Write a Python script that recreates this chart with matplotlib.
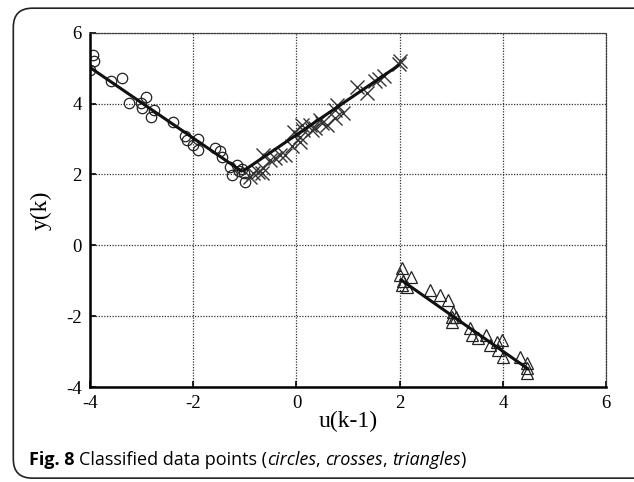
import matplotlib
matplotlib.use("Agg")
import matplotlib.pyplot as plt
from matplotlib.patches import FancyBboxPatch

plt.rcParams["axes.unicode_minus"] = False

# data
circles_u = [-3.94, -3.92, -4.01, -3.59, -3.39, -3.24, -3.02, -2.92, -3.0, -2.77,
             -2.82, -2.39, -2.16, -2.13, -1.90, -2.0, -1.91, -1.58, -1.48, -1.44,
             -1.29, -1.16, -1.24, -1.06, -1.0, -1.12, -1.02]
circles_y = [5.36, 5.20, 4.95, 4.64, 4.72, 4.02, 4.03, 4.20, 3.88, 3.82,
             3.62, 3.47, 3.10, 2.98, 3.00, 2.84, 2.69, 2.76, 2.66, 2.49,
             2.20, 2.27, 1.99, 2.15, 1.80, 2.10, 2.05]

crosses_u = [2.01, 1.98, 1.69, 1.52, 1.60, 1.17, 1.36, 0.78, 0.75, 0.91,
             0.75, 0.59, 0.46, 0.36, 0.26, 0.10, 0.13, 0.06, 0.07, -0.09,
             -0.22, -0.32, -0.41, -0.51, -0.64, -0.64, -0.74, -0.84, -0.67, -0.90,
             0.30, 0.50, -0.05]
crosses_y = [5.19, 5.12, 4.77, 4.65, 4.70, 4.48, 4.29, 3.97, 3.82, 3.73,
             3.59, 3.40, 3.54, 3.31, 3.40, 3.40, 3.26, 3.07, 2.93, 2.79,
             2.55, 2.55, 2.46, 2.41, 2.55, 2.18, 2.08, 2.04, 2.04, 1.94,
             3.25, 3.45, 3.20]

tri_u = [2.04, 2.01, 2.21, 2.07, 2.04, 2.14, 2.59, 2.79, 2.94, 3.04,
         3.01, 3.01, 3.10, 3.36, 3.40, 3.52, 3.68, 3.75, 3.88, 3.98,
         3.91, 4.01, 4.33, 4.46, 4.46, 4.46]
tri_y = [-0.65, -0.84, -0.88, -1.02, -1.12, -1.17, -1.26, -1.40, -1.54, -1.87,
         -2.01, -2.16, -2.01, -2.34, -2.53, -2.62, -2.53, -2.81, -2.72, -2.67,
         -2.95, -3.14, -3.14, -3.33, -3.47, -3.61]

# fitted piecewise lines
fit1_u = [-4.0, -1.05]
fit1_y = [5.02, 2.08]
fit2_u = [-1.05, 2.0]
fit2_y = [2.08, 5.1]
fit3_u = [2.0, 4.5]
fit3_y = [-0.95, -3.5]

ticks = [-4, -2, 0, 2, 4, 6]

serif = "Liberation Serif"
sans = "Open Sans"

fig = plt.figure(figsize=(6.34, 4.82), dpi=100)
ax = fig.add_axes([0.142, 0.197, 0.814, 0.735])

mk = dict(linestyle="none", markerfacecolor="none")
ax.plot(circles_u, circles_y, marker="o", markersize=7.5, markeredgecolor="#222222",
        markeredgewidth=0.9, **mk)
ax.plot(crosses_u, crosses_y, marker="x", markersize=10, markeredgecolor="#333333",
        markeredgewidth=1.0, **mk)
ax.plot(tri_u, tri_y, marker="^", markersize=8.5, markeredgecolor="#222222",
        markeredgewidth=0.9, **mk)

for u, y in [(fit1_u, fit1_y), (fit2_u, fit2_y), (fit3_u, fit3_y)]:
    ax.plot(u, y, color="#111111", linewidth=2.2, solid_capstyle="butt")

ax.set_xlim(-4, 6)
ax.set_ylim(-4, 6)
ax.set_xticks(ticks)
ax.set_yticks(ticks)
ax.grid(True, linestyle=(0, (1, 1.2)), color="#333333", linewidth=0.9)
ax.tick_params(direction="in", length=4, width=1.2, labelsize=13.5, pad=6)
for lab in ax.get_xticklabels() + ax.get_yticklabels():
    lab.set_fontfamily(serif)

for s in ["left", "bottom"]:
    ax.spines[s].set_linewidth(1.8)
for s in ["top", "right"]:
    ax.spines[s].set_linestyle((0, (1, 1.2)))
    ax.spines[s].set_linewidth(0.9)
    ax.spines[s].set_color("#333333")

ax.set_xlabel("u(k-1)", fontfamily=serif, fontsize=17, labelpad=-1)
ax.set_ylabel("y(k)", fontfamily=serif, fontsize=17, labelpad=10)

# rounded caption frame, right side runs off the page
frame = FancyBboxPatch((0.021, 0.008), 1.2, 0.975, boxstyle="round,pad=0,rounding_size=0.03",
                       transform=fig.transFigure, facecolor="none", edgecolor="#222222",
                       linewidth=1.2, mutation_aspect=634 / 482)
fig.patches.append(frame)

# caption with italic words, placed one after another
r = fig.canvas.get_renderer()
parts = [("Fig. 8 ", "bold", "normal"), ("Classified data points (", "normal", "normal"),
         ("circles", "normal", "italic"), (", ", "normal", "normal"),
         ("crosses", "normal", "italic"), (", ", "normal", "normal"),
         ("triangles", "normal", "italic"), (")", "normal", "normal")]
x = 0.045
for s, w, st in parts:
    t = fig.text(x, 0.036, s, fontfamily=sans, fontweight=w, style=st,
                 fontsize=13, va="baseline")
    bb = t.get_window_extent(renderer=r)
    x += bb.width / fig.bbox.width

fig.savefig("out.png", dpi=100)
